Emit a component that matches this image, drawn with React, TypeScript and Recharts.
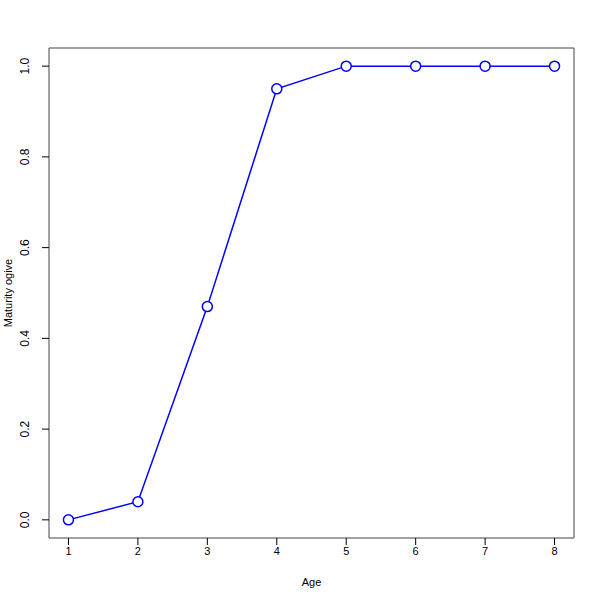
import { LineChart, Line, XAxis, YAxis, ReferenceArea } from 'recharts';

const ages = [1, 2, 3, 4, 5, 6, 7, 8];
const maturity = [0, 0.04, 0.47, 0.95, 1, 1, 1, 1];
const xTicks = [1, 2, 3, 4, 5, 6, 7, 8];
const yTicks = [0, 0.2, 0.4, 0.6, 0.8, 1.0];

const data = ages.map((a, i) => ({ age: a, value: maturity[i] }));

const FONT = '"Liberation Sans", Arial, sans-serif';

// y tick labels are rotated like R's default las=0
function YTick(props: { x: number; y: number; payload: { value: number } }) {
  const { x, y, payload } = props;
  return (
    <text
      x={x - 11}
      y={y}
      transform={`rotate(-90, ${x - 11}, ${y})`}
      textAnchor="middle"
      fontSize={12}
      fontFamily={FONT}
      fill="#000"
    >
      {payload.value.toFixed(1)}
    </text>
  );
}

function YLabel() {
  return (
    <text
      x={12}
      y={293}
      transform="rotate(-90, 12, 293)"
      textAnchor="middle"
      fontSize={11}
      fontFamily={FONT}
      fill="#000"
    >
      Maturity ogive
    </text>
  );
}

export default function App() {
  return (
    <div style={{ position: 'absolute', left: 0, top: 0, background: '#fff' }}>
      <LineChart
        width={600}
        height={600}
        data={data}
        margin={{ top: 48, right: 26, left: 0, bottom: 0 }}
      >
        <XAxis
          dataKey="age"
          type="number"
          domain={[0.72, 8.28]}
          ticks={xTicks}
          allowDataOverflow
          height={62}
          axisLine={false}
          tickSize={7}
          tickLine={{ stroke: '#000' }}
          tick={{ fill: '#000', fontSize: 11, fontFamily: FONT }}
          label={{ value: 'Age', position: 'insideBottom', offset: 14, fill: '#000', fontSize: 11, fontFamily: FONT }}
        />
        <YAxis
          type="number"
          domain={[-0.04, 1.04]}
          ticks={yTicks}
          allowDataOverflow
          width={49}
          axisLine={false}
          tickSize={7}
          tickLine={{ stroke: '#000' }}
          tick={YTick}
          label={<YLabel />}
        />
        <ReferenceArea
          x1={0.72}
          x2={8.28}
          y1={-0.04}
          y2={1.04}
          fill="none"
          fillOpacity={0}
          stroke="#444"
          strokeWidth={1}
          ifOverflow="visible"
        />
        <Line
          type="linear"
          dataKey="value"
          stroke="#0000ff"
          strokeWidth={1.5}
          dot={{ r: 5, fill: '#fff', stroke: '#0000ff', strokeWidth: 1.5 }}
          isAnimationActive={false}
        />
      </LineChart>
    </div>
  );
}
